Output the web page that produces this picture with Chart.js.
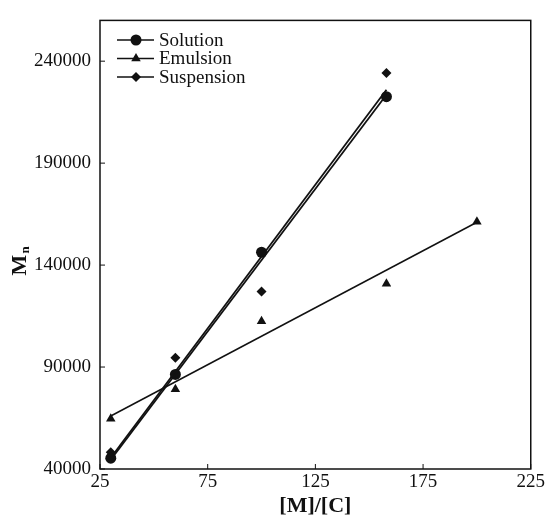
<!DOCTYPE html>
<html lang="en">
<head>
  <meta charset="UTF-8">
  <title>Mn vs [M]/[C]</title>
  <script src="https://cdn.jsdelivr.net/npm/chart.js"></script>
  <style>
    body { margin: 0; background: #fff; }
    canvas { display: block; }
  </style>
</head>
<body>
<canvas id="mnChart" width="547" height="517"></canvas>
<script>
    // tick labels
    const xTicks = [25, 75, 125, 175, 225];
    const yTicks = [40000, 90000, 140000, 190000, 240000];

    // measured points
    const ratioSolution = [30, 60, 100, 158];
    const mnSolution = [45300, 86400, 146300, 222600];
    const ratioEmulsion = [30, 60, 100, 158, 200];
    const mnEmulsion = [64600, 79100, 112500, 130800, 161300];
    const ratioSuspension = [30, 60, 100, 158];
    const mnSuspension = [48200, 94600, 127000, 234200];

    // straight fit lines, end points
    const fitSolutionX = [30, 158];
    const fitSolutionY = [44500, 223500];
    const fitSuspensionX = [30, 158];
    const fitSuspensionY = [45500, 226000];
    const fitEmulsionX = [30, 200];
    const fitEmulsionY = [66000, 161000];

    const seriesNames = ['Solution', 'Emulsion', 'Suspension'];
    const seriesStyles = ['circle', 'triangle', 'rectRot'];
    const seriesSizes = [5.5, 5.5, 5];

    const serif = "'Liberation Serif', 'DejaVu Serif', serif";
    const ink = '#111';

    function pts(xs, ys) {
        return xs.map((x, i) => ({ x: x, y: ys[i] }));
    }

    // box, inward ticks, legend and axis titles
    const framePlugin = {
        id: 'frame',
        afterDraw(chart) {
            const ctx = chart.ctx;
            const a = chart.chartArea;
            const xs = chart.scales.x, ys = chart.scales.y;
            ctx.save();
            ctx.strokeStyle = ink;
            ctx.lineWidth = 1.5;
            ctx.strokeRect(a.left, a.top, a.right - a.left, a.bottom - a.top);

            ctx.lineWidth = 1;
            ctx.beginPath();
            xTicks.forEach(v => {
                const px = xs.getPixelForValue(v);
                ctx.moveTo(px, a.bottom);
                ctx.lineTo(px, a.bottom - 5);
            });
            yTicks.forEach(v => {
                const py = ys.getPixelForValue(v);
                ctx.moveTo(a.left, py);
                ctx.lineTo(a.left + 5, py);
            });
            ctx.stroke();

            // legend
            ctx.fillStyle = ink;
            ctx.font = '19px ' + serif;
            ctx.textBaseline = 'middle';
            seriesNames.forEach((name, i) => {
                const y = 40 + i * 18.5;
                ctx.lineWidth = 1.5;
                ctx.beginPath();
                ctx.moveTo(117, y);
                ctx.lineTo(154, y);
                ctx.stroke();
                Chart.helpers.drawPoint(ctx, { pointStyle: seriesStyles[i], radius: seriesSizes[i], rotation: 0 }, 136, y);
                ctx.fillText(name, 159, y + 1);
            });

            // x title
            ctx.font = 'bold 22px ' + serif;
            ctx.textAlign = 'center';
            ctx.fillText('[M]/[C]', (a.left + a.right) / 2, 506);

            // y title, M with subscript n
            ctx.translate(20, 262);
            ctx.rotate(-Math.PI / 2);
            ctx.font = 'bold 22px ' + serif;
            ctx.textAlign = 'left';
            const w = ctx.measureText('M').width;
            ctx.fillText('M', -w / 2 - 3, 0);
            ctx.font = 'bold 13px ' + serif;
            ctx.fillText('n', w / 2 - 2, 6);
            ctx.restore();
        }
    };

    const lineOpts = { showLine: true, pointRadius: 0, borderColor: ink, fill: false };
    const markOpts = { showLine: false, backgroundColor: ink, borderColor: ink, borderWidth: 0 };

    new Chart(document.getElementById('mnChart'), {
        type: 'scatter',
        data: {
            datasets: [
                Object.assign({ label: 'Solution fit', data: pts(fitSolutionX, fitSolutionY), borderWidth: 1.8 }, lineOpts),
                Object.assign({ label: 'Suspension fit', data: pts(fitSuspensionX, fitSuspensionY), borderWidth: 1.8 }, lineOpts),
                Object.assign({ label: 'Emulsion fit', data: pts(fitEmulsionX, fitEmulsionY), borderWidth: 1.5 }, lineOpts),
                Object.assign({ label: 'Solution', data: pts(ratioSolution, mnSolution), pointStyle: 'circle', pointRadius: 5.5 }, markOpts),
                Object.assign({ label: 'Emulsion', data: pts(ratioEmulsion, mnEmulsion), pointStyle: 'triangle', pointRadius: 5.5 }, markOpts),
                Object.assign({ label: 'Suspension', data: pts(ratioSuspension, mnSuspension), pointStyle: 'rectRot', pointRadius: 5 }, markOpts)
            ]
        },
        options: {
            responsive: false,
            animation: false,
            devicePixelRatio: 1,
            layout: { padding: { left: 0, top: 13, right: 16, bottom: 0 } },
            plugins: {
                legend: { display: false },
                tooltip: { enabled: false }
            },
            scales: {
                x: {
                    type: 'linear',
                    min: 25,
                    max: 225,
                    afterBuildTicks: s => { s.ticks = xTicks.map(v => ({ value: v })); },
                    afterFit: s => { s.height = 48; },
                    grid: { display: false, drawTicks: false },
                    border: { display: false },
                    ticks: {
                        autoSkip: false,
                        maxRotation: 0,
                        padding: 2,
                        color: ink,
                        font: { family: serif, size: 19 },
                        callback: v => String(v)
                    }
                },
                y: {
                    type: 'linear',
                    min: 40000,
                    max: 260000,
                    afterBuildTicks: s => { s.ticks = yTicks.map(v => ({ value: v })); },
                    afterFit: s => { s.width = 100; },
                    grid: { display: false, drawTicks: false },
                    border: { display: false },
                    ticks: {
                        autoSkip: false,
                        padding: 9,
                        color: ink,
                        font: { family: serif, size: 19 },
                        callback: v => String(v)
                    }
                }
            }
        },
        plugins: [framePlugin]
    });
</script>
</body>
</html>
